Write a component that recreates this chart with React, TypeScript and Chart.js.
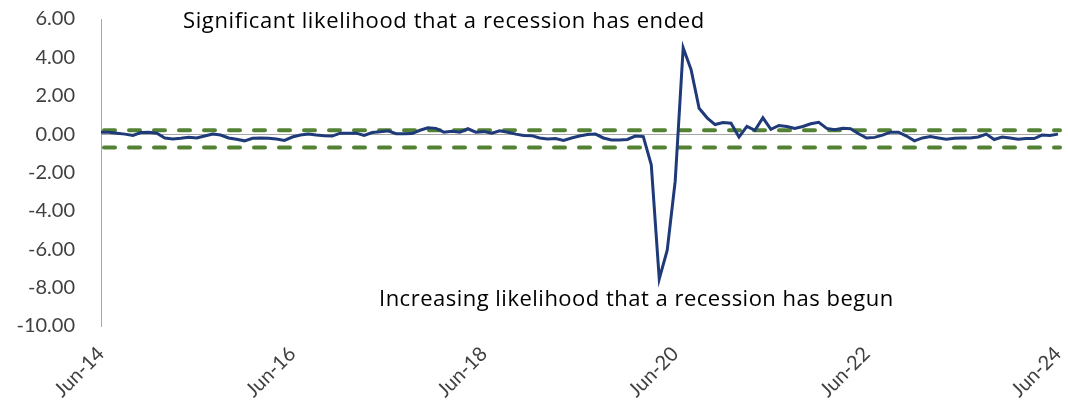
import React, { useEffect, useRef } from "react";
import { Chart, registerables } from "chart.js";

Chart.register(...registerables);

// Monthly observations, Jun-2014 .. Jun-2024 (121 months)
const MONTHS = ["Jan", "Feb", "Mar", "Apr", "May", "Jun", "Jul", "Aug", "Sep", "Oct", "Nov", "Dec"];
const START_YEAR = 2014;
const START_MONTH = 5; // June

const values: number[] = [
  0.10, 0.10, 0.05, 0.00, -0.07, 0.08, 0.10, 0.05, -0.20, -0.25,
  -0.22, -0.16, -0.20, -0.10, 0.00, -0.05, -0.20, -0.27, -0.35, -0.22,
  -0.20, -0.22, -0.25, -0.33, -0.15, -0.05, 0.00, -0.05, -0.08, -0.10,
  0.05, 0.05, 0.05, -0.07, 0.08, 0.12, 0.17, 0.02, 0.02, 0.03,
  0.20, 0.33, 0.30, 0.10, 0.15, 0.10, 0.28, 0.10, 0.13, 0.05,
  0.17, 0.10, 0.00, -0.07, -0.08, -0.20, -0.25, -0.23, -0.33, -0.20,
  -0.10, -0.02, 0.00, -0.20, -0.30, -0.30, -0.28, -0.10, -0.13, -1.60,
  -7.55, -6.05, -2.45, 4.50, 3.35, 1.35, 0.85, 0.50, 0.60, 0.57,
  -0.15, 0.40, 0.20, 0.85, 0.25, 0.45, 0.40, 0.30, 0.40, 0.54,
  0.62, 0.30, 0.23, 0.30, 0.28, 0.02, -0.20, -0.17, -0.05, 0.10,
  0.10, -0.10, -0.35, -0.20, -0.13, -0.20, -0.27, -0.22, -0.20, -0.20,
  -0.15, 0.00, -0.28, -0.15, -0.20, -0.27, -0.23, -0.23, -0.05, -0.07,
  0.00,
];

const labels: string[] = values.map((_, i) => {
  const m = START_MONTH + i;
  const y = START_YEAR + Math.floor(m / 12);
  return `${MONTHS[m % 12]}-${String(y % 100).padStart(2, "0")}`;
});

const shownTickLabels = ["Jun-14", "Jun-16", "Jun-18", "Jun-20", "Jun-22", "Jun-24"];

const UPPER_THRESHOLD = 0.2;
const LOWER_THRESHOLD = -0.7;

const Y_MIN = -10;
const Y_MAX = 6;
const Y_STEP = 2;

const TOP_NOTE = "Significant likelihood that a recession has ended";
const BOTTOM_NOTE = "Increasing likelihood that a recession has begun";

const FONT = "Lato, 'Open Sans', sans-serif";
const NOTE_FONT = "'Open Sans', Lato, sans-serif";

function drawFitted(ctx: any, text: string, x: number, y: number, width: number) {
  ctx.letterSpacing = "0px";
  const w = ctx.measureText(text).width;
  const extra = (width - w) / Math.max(1, text.length - 1);
  ctx.letterSpacing = `${extra.toFixed(2)}px`;
  ctx.fillText(text, x, y);
  ctx.letterSpacing = "0px";
}

const overlayPlugin = {
  id: "overlay",
  beforeDatasetsDraw(chart: any) {
    const { ctx, chartArea, scales } = chart;
    const y = scales.y;
    ctx.save();
    ctx.strokeStyle = "#548235";
    ctx.lineWidth = 4;
    ctx.setLineDash([11, 14]);
    ctx.lineCap = "round";
    [UPPER_THRESHOLD, LOWER_THRESHOLD].forEach((v) => {
      const py = y.getPixelForValue(v);
      ctx.beginPath();
      ctx.moveTo(chartArea.left + 3, py);
      ctx.lineTo(chartArea.right + 2, py);
      ctx.stroke();
    });
    ctx.restore();
  },
  afterDraw(chart: any) {
    const { ctx } = chart;
    ctx.save();
    ctx.fillStyle = "#000000";
    ctx.font = `22px ${NOTE_FONT}`;
    ctx.textBaseline = "alphabetic";
    ctx.textAlign = "left";
    drawFitted(ctx, TOP_NOTE, 183, 28, 521);
    drawFitted(ctx, BOTTOM_NOTE, 379, 306, 514);
    ctx.restore();
  },
};

export default function App() {
  const canvasRef = useRef<HTMLCanvasElement | null>(null);

  useEffect(() => {
    if (!canvasRef.current) return;
    const chart = new Chart(canvasRef.current, {
      type: "line",
      data: {
        labels,
        datasets: [
          {
            data: values,
            borderColor: "#1F3A78",
            borderWidth: 3,
            pointRadius: 0,
            tension: 0,
            fill: false,
          },
        ],
      },
      options: {
        responsive: false,
        animation: false,
        layout: { padding: { top: 19, right: 10, left: 0, bottom: 0 } },
        plugins: {
          legend: { display: false },
          tooltip: { enabled: false },
        },
        scales: {
          x: {
            offset: false,
            border: { display: false },
            grid: { display: false },
            ticks: {
              autoSkip: false,
              maxRotation: 45,
              minRotation: 45,
              color: "#404040",
              font: { family: FONT, size: 20 },
              padding: 8,
              callback: (_v: any, i: number) =>
                shownTickLabels.includes(labels[i]) ? labels[i] : null,
            },
            afterFit: (scale: any) => {
              scale.height = 89;
              scale.paddingLeft = 0;
              scale.paddingRight = 0;
            },
          },
          y: {
            min: Y_MIN,
            max: Y_MAX,
            border: { display: true, color: "#A6A6A6", width: 1 },
            grid: {
              drawTicks: false,
              color: (ctx: any) => (ctx.tick && ctx.tick.value === 0 ? "#A6A6A6" : "rgba(0,0,0,0)"),
              lineWidth: 1,
            },
            ticks: {
              stepSize: Y_STEP,
              color: "#404040",
              font: { family: FONT, size: 20 },
              padding: 26,
              callback: (v: any) => Number(v).toFixed(2),
            },
            afterFit: (scale: any) => {
              scale.width = 101;
              scale.paddingTop = 0;
              scale.paddingBottom = 0;
            },
          },
        },
      },
      plugins: [overlayPlugin],
    });
    return () => chart.destroy();
  }, []);

  return (
    <div style={{ position: "absolute", left: 0, top: 0, width: 1068, height: 415, background: "#fff" }}>
      <canvas ref={canvasRef} width={1068} height={415} style={{ display: "block" }} />
    </div>
  );
}
